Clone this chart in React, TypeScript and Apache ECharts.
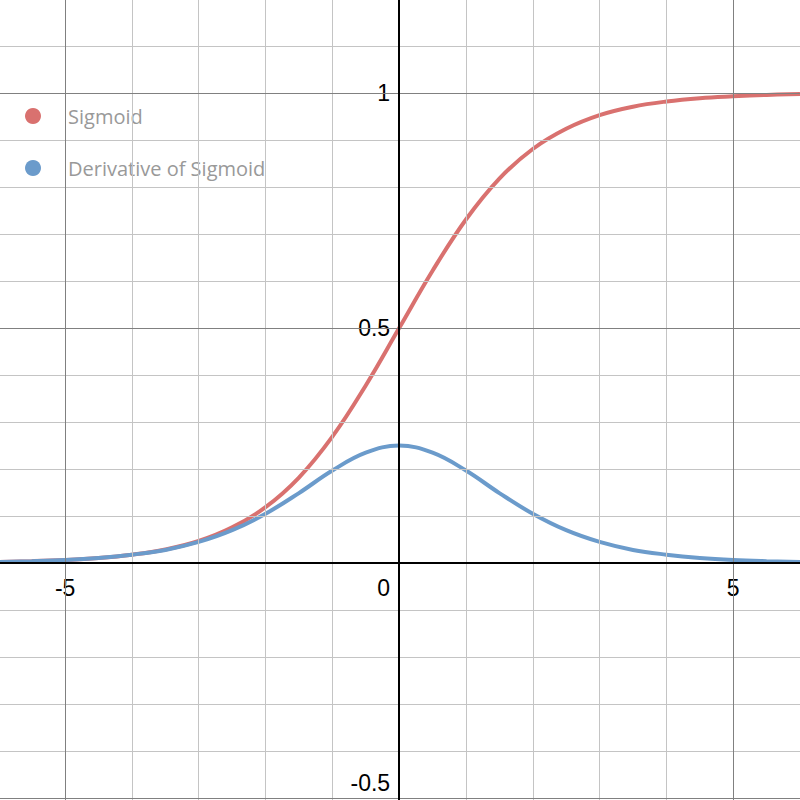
import React, { useEffect, useRef } from "react";
import * as echarts from "echarts";

const xs = [-6, -5.5, -5, -4.5, -4, -3.5, -3, -2.5, -2, -1.5, -1, -0.5, 0, 0.5, 1, 1.5, 2, 2.5, 3, 3.5, 4, 4.5, 5, 5.5, 6];
const sigmoid = [0.0025, 0.0041, 0.0067, 0.011, 0.018, 0.029, 0.047, 0.076, 0.119, 0.182, 0.269, 0.378, 0.5, 0.622, 0.731, 0.818, 0.881, 0.924, 0.953, 0.971, 0.982, 0.989, 0.993, 0.996, 0.998];
const derivative = [0.0025, 0.0041, 0.0066, 0.011, 0.018, 0.028, 0.045, 0.07, 0.105, 0.149, 0.197, 0.235, 0.25, 0.235, 0.197, 0.149, 0.105, 0.07, 0.045, 0.028, 0.018, 0.011, 0.0066, 0.0041, 0.0025];
const minorX = [-5, -4, -3, -2, -1, 1, 2, 3, 4, 5, 6];
const majorX = [-5, 5];
const minorY = [-0.5, -0.4, -0.3, -0.2, -0.1, 0.1, 0.2, 0.3, 0.4, 0.5, 0.6, 0.7, 0.8, 0.9, 1, 1.1];
const majorY = [-0.5, 0.5, 1];
const xTicks = [-5, 0, 5];
const yTicks = [1, 0.5, -0.5];

export default function App() {
  const ref = useRef<HTMLDivElement>(null);
  useEffect(() => {
    const chart = echarts.init(ref.current!, null, { renderer: "svg" });
    const vl = (arr: number[], c: string) => arr.map((v) => ({ xAxis: v, lineStyle: { color: c, width: 1, type: "solid" } }));
    const hl = (arr: number[], c: string) => arr.map((v) => ({ yAxis: v, lineStyle: { color: c, width: 1, type: "solid" } }));
    chart.setOption({
      animation: false,
      grid: { left: 0, right: 0, top: 0, bottom: 0 },
      xAxis: { type: "value", min: -5.975, max: 6, axisLine: { show: false }, axisTick: { show: false }, axisLabel: { show: false }, splitLine: { show: false } },
      yAxis: { type: "value", min: -0.504, max: 1.198, axisLine: { show: false }, axisTick: { show: false }, axisLabel: { show: false }, splitLine: { show: false } },
      legend: {
        orient: "vertical", left: 20, top: 101, itemGap: 32, icon: "circle", itemWidth: 16, itemHeight: 16,
        textStyle: { color: "#999", fontSize: 20, fontFamily: "Open Sans", padding: [0, 0, 0, 22] },
        data: ["Sigmoid", "Derivative of Sigmoid"],
      },
      series: [
        {
          type: "line", data: [], silent: true,
          markLine: {
            symbol: "none", silent: true, label: { show: false },
            data: [
              ...vl(minorX, "#c4c4c4"), ...hl(minorY, "#c4c4c4"),
              ...vl(majorX, "#808080"), ...hl(majorY, "#808080"),
              { xAxis: 0, lineStyle: { color: "#000", width: 2, type: "solid" } },
              { yAxis: 0, lineStyle: { color: "#000", width: 2, type: "solid" } },
            ],
          },
        },
        {
          name: "Sigmoid", type: "line", smooth: 0.4, showSymbol: false,
          data: xs.map((x, i) => [x, sigmoid[i]]), color: "#d9716f", lineStyle: { width: 4 },
        },
        {
          name: "Derivative of Sigmoid", type: "line", smooth: 0.4, showSymbol: false,
          data: xs.map((x, i) => [x, derivative[i]]), color: "#6b9bcb", lineStyle: { width: 4 },
        },
      ],
    });
    const ts = { fontSize: 23, fontFamily: "Liberation Sans, Arial", fill: "#000", stroke: "#fff", lineWidth: 4 };
    const els: any[] = [];
    xTicks.forEach((v) => {
      const p = chart.convertToPixel({ gridIndex: 0 }, [v, 0]);
      els.push({ type: "text", x: p[0] + (v === 0 ? -9 : 0), y: p[1] + 25, style: { ...ts, text: String(v), align: v === 0 ? "right" : "center", verticalAlign: "middle" } });
    });
    yTicks.forEach((v) => {
      const p = chart.convertToPixel({ gridIndex: 0 }, [0, v]);
      els.push({ type: "text", x: p[0] - 9, y: p[1] + (v < 0 ? -15 : 0), style: { ...ts, text: String(v), align: "right", verticalAlign: "middle" } });
    });
    chart.setOption({ graphic: els });
    return () => chart.dispose();
  }, []);
  return <div ref={ref} style={{ position: "fixed", left: 0, top: 0, width: 800, height: 800, background: "#fff" }} />;
}
